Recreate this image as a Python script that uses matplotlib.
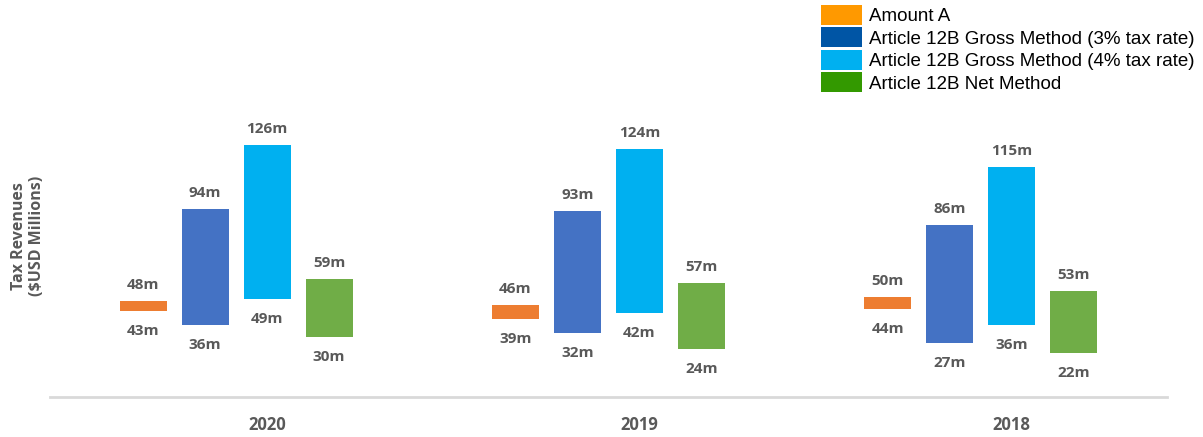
import numpy as np
import matplotlib.pyplot as plt
from matplotlib.patches import Patch

years = ["2020", "2019", "2018"]
series = ["Amount A",
          "Article 12B Gross Method (3% tax rate)",
          "Article 12B Gross Method (4% tax rate)",
          "Article 12B Net Method"]
low = [[43, 39, 44],
       [36, 32, 27],
       [49, 42, 36],
       [30, 24, 22]]
high = [[48, 46, 50],
        [94, 93, 86],
        [126, 124, 115],
        [59, 57, 53]]

bar_colors = ["#ED7D31", "#4472C4", "#00B0F0", "#70AD47"]
legend_colors = ["#FF9900", "#0055A5", "#00B0F0", "#339900"]
grey = "#595959"

fig = plt.figure(figsize=(12.03, 4.37), dpi=100)
ax = fig.add_axes([50 / 1203, 40 / 437, 1117 / 1203, 270 / 437])

x = np.arange(len(years))
width = 0.126
pitch = 0.1665
for i in range(len(series)):
    xs = x + (i - 1.5) * pitch
    lo = np.array(low[i])
    hi = np.array(high[i])
    ax.bar(xs, hi - lo, bottom=lo, width=width, color=bar_colors[i], zorder=3)
    for xx, l, h in zip(xs, lo, hi):
        ax.annotate(f"{h}m", (xx, h), xytext=(0, 16), textcoords="offset pixels",
                    ha="center", va="center", fontsize=11, fontweight="bold",
                    color=grey, family="Open Sans")
        ax.annotate(f"{l}m", (xx, l), xytext=(0, -20), textcoords="offset pixels",
                    ha="center", va="center", fontsize=11, fontweight="bold",
                    color=grey, family="Open Sans")

ax.set_xlim(-0.5, len(years) - 0.5)
ax.set_ylim(0, 135)
for s in ["top", "right", "left"]:
    ax.spines[s].set_visible(False)
ax.spines["bottom"].set_color("#D9D9D9")
ax.spines["bottom"].set_linewidth(2)
ax.set_yticks([])
ax.set_xticks(x + 0.083)
ax.set_xticklabels(years, fontsize=12, fontweight="bold", color=grey, family="Open Sans")
ax.tick_params(axis="x", length=0, pad=14)

# y label, centred about 236 px from the top
fig.text(28 / 1203, 1 - 236 / 437, "Tax Revenues\n($USD Millions)", rotation=90,
         ha="center", va="center", fontsize=11.5, fontweight="bold", color=grey,
         family="Open Sans", linespacing=1.2)

handles = [Patch(facecolor=c, label=s) for c, s in zip(legend_colors, series)]
fig.legend(handles=handles, loc="upper left", bbox_to_anchor=(821 / 1203, 1 - 5 / 437),
           frameon=False, prop={"family": "Liberation Sans", "size": 13.5},
           handlelength=2.2, handleheight=1.25, handletextpad=0.38,
           labelspacing=0.12, borderpad=0, borderaxespad=0)

fig.savefig("out.png", dpi=100)
